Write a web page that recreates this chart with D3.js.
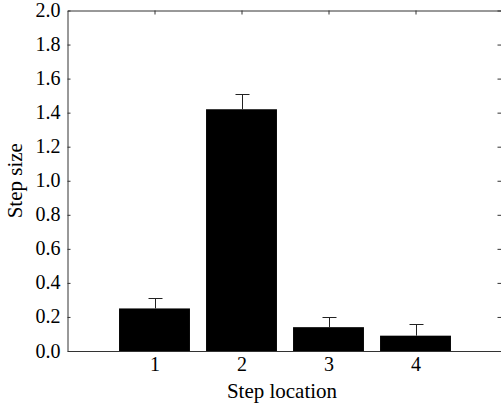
<!DOCTYPE html>
<html>
<head>
<meta charset="utf-8">
<script src="https://cdn.jsdelivr.net/npm/d3@7"></script>
<style>
  html, body { margin: 0; padding: 0; background: #fff; }
  svg { display: block; }
</style>
</head>
<body>
<svg id="chart" width="501" height="405"></svg>
<script>
const categories = [1, 2, 3, 4];
const stepSize = [0.25, 1.42, 0.14, 0.09];
const stepError = [0.06, 0.09, 0.06, 0.07];
const yTicks = [0.0, 0.2, 0.4, 0.6, 0.8, 1.0, 1.2, 1.4, 1.6, 1.8, 2.0];

const FONT = "'Liberation Serif', 'DejaVu Serif', 'Times New Roman', serif";
const svg = d3.select("#chart");
const mLeft = 67.5, mRight = 502.5, mTop = 10.5, mBottom = 351;

const x = d3.scaleLinear().domain([0, 5]).range([mLeft, mRight]);
const y = d3.scaleLinear().domain([0, 2]).range([mBottom, mTop]);
const barW = (x(1) - x(0)) * 0.815;
const capW = 14;

// bars
svg.append("g").selectAll("rect")
  .data(categories)
  .join("rect")
  .attr("x", (d) => x(d) - barW / 2)
  .attr("y", (d, i) => y(stepSize[i]))
  .attr("width", barW)
  .attr("height", (d, i) => y(0) - y(stepSize[i]))
  .attr("fill", "#000");

// error bars
const eg = svg.append("g").attr("stroke", "#222").attr("stroke-width", 1);
categories.forEach((d, i) => {
  const cx = Math.round(x(d)) + 0.5;
  const yt = Math.round(y(stepSize[i] + stepError[i])) + 0.5;
  eg.append("line").attr("x1", cx).attr("x2", cx)
    .attr("y1", y(stepSize[i])).attr("y2", yt);
  eg.append("line").attr("x1", cx - capW / 2).attr("x2", cx + capW / 2)
    .attr("y1", yt).attr("y2", yt);
});

// axes (inward ticks)
const fmt = d3.format(".1f");
const yAxisL = svg.append("g").attr("transform", `translate(${mLeft},0)`)
  .call(d3.axisLeft(y).tickValues(yTicks).tickFormat(fmt).tickSizeInner(-3).tickSizeOuter(0).tickPadding(7));
const yAxisR = svg.append("g").attr("transform", `translate(${mRight - 1},0)`)
  .call(d3.axisRight(y).tickValues(yTicks).tickFormat("").tickSizeInner(-4).tickSizeOuter(0));
const xAxisB = svg.append("g").attr("transform", `translate(0,${mBottom})`)
  .call(d3.axisBottom(x).tickValues(categories).tickFormat(d3.format("d")).tickSizeInner(0).tickSizeOuter(0).tickPadding(6));
const xAxisT = svg.append("g").attr("transform", `translate(0,${mTop})`)
  .call(d3.axisTop(x).tickValues(categories).tickFormat("").tickSizeInner(-4).tickSizeOuter(0));

[yAxisL, yAxisR, xAxisB, xAxisT].forEach((g) => {
  g.attr("font-family", FONT).attr("font-size", 20);
  g.select(".domain").attr("stroke", "#333").attr("stroke-width", 1);
  g.selectAll(".tick line").attr("stroke", "#333");
});
yAxisL.selectAll(".tick text")
  .attr("font-family", FONT).attr("font-size", 20).attr("fill", "#000").attr("dy", "0.3em");
xAxisB.selectAll(".tick text")
  .attr("font-family", FONT).attr("font-size", 20).attr("fill", "#000");

// axis titles
svg.append("text")
  .attr("x", (x(0) + x(5)) / 2 - 3).attr("y", 398)
  .attr("text-anchor", "middle")
  .attr("font-family", FONT).attr("font-size", 21)
  .text("Step location");
svg.append("text")
  .attr("transform", `translate(22,${(mTop + mBottom) / 2}) rotate(-90)`)
  .attr("text-anchor", "middle")
  .attr("font-family", FONT).attr("font-size", 21)
  .text("Step size");
</script>
</body>
</html>
